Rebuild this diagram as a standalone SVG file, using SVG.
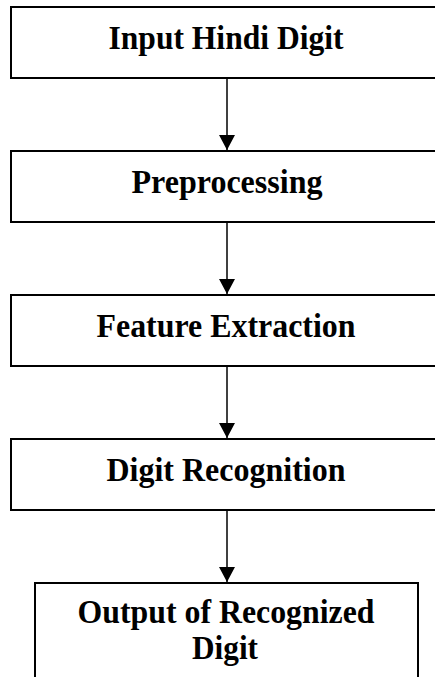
<svg xmlns="http://www.w3.org/2000/svg" width="435" height="677" viewBox="0 0 435 677">
<defs>
<style>
.box{fill:#fff;stroke:#000;stroke-width:2}
.lbl{font-family:"Liberation Serif","Times New Roman",serif;font-weight:bold;font-size:34px;fill:#000;text-anchor:middle}
.con{stroke:#000;stroke-width:1.5;fill:none}
</style>
<marker id="ah" markerWidth="16" markerHeight="16" refX="15" refY="8" orient="auto" markerUnits="userSpaceOnUse">
<path d="M0,0 L15,8 L0,16 Z" fill="#000"/>
</marker>
</defs>
<rect width="435" height="677" fill="#fff"/>
<g id="connectors">
<line class="con" x1="227" y1="78" x2="227" y2="150" marker-end="url(#ah)"/>
<line class="con" x1="227" y1="222" x2="227" y2="294" marker-end="url(#ah)"/>
<line class="con" x1="227" y1="366" x2="227" y2="438" marker-end="url(#ah)"/>
<line class="con" x1="227" y1="510" x2="227" y2="582" marker-end="url(#ah)"/>
</g>
<g id="input">
<rect class="box" x="11" y="7" width="432" height="71"/>
<text class="lbl" x="226" y="49" textLength="235" lengthAdjust="spacingAndGlyphs">Input Hindi Digit</text>
</g>
<g id="preprocessing">
<rect class="box" x="11" y="151" width="432" height="71"/>
<text class="lbl" x="227" y="193" textLength="191" lengthAdjust="spacingAndGlyphs">Preprocessing</text>
</g>
<g id="feature">
<rect class="box" x="11" y="295" width="432" height="71"/>
<text class="lbl" x="226" y="337" textLength="259" lengthAdjust="spacingAndGlyphs">Feature Extraction</text>
</g>
<g id="recognition">
<rect class="box" x="11" y="439" width="432" height="71"/>
<text class="lbl" x="226" y="481" textLength="239" lengthAdjust="spacingAndGlyphs">Digit Recognition</text>
</g>
<g id="output">
<rect class="box" x="35" y="583" width="383" height="110"/>
<text class="lbl" x="226" y="623" textLength="297" lengthAdjust="spacingAndGlyphs">Output of Recognized</text>
<text class="lbl" x="225" y="659" textLength="66" lengthAdjust="spacingAndGlyphs">Digit</text>
</g>
</svg>
